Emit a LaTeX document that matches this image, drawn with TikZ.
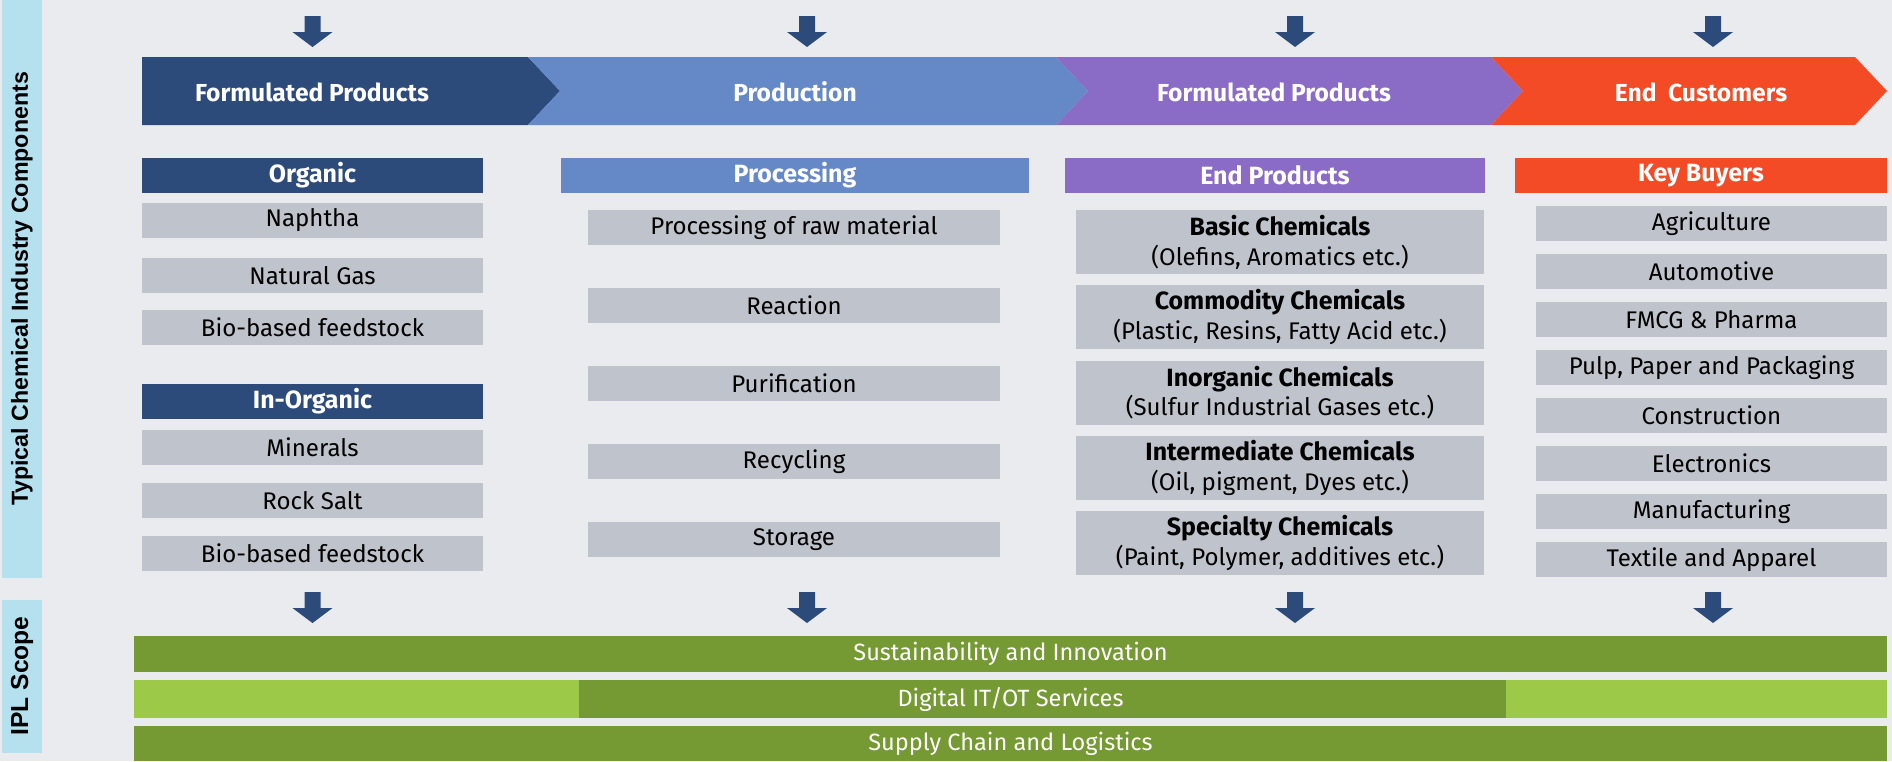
\documentclass[tikz,border=0pt]{standalone}
\usepackage{fontspec}
\setmainfont{Fira Sans}
\newfontfamily\stripfont{Liberation Sans}

\definecolor{bgcol}{HTML}{E9EBEF}
\definecolor{itemgray}{HTML}{BFC3CB}
\definecolor{stripblue}{HTML}{B5E1EF}
\definecolor{navy}{HTML}{2C4A7A}
\definecolor{skyblue}{HTML}{6589C7}
\definecolor{chempurple}{HTML}{8A6BC5}
\definecolor{flame}{HTML}{F44B27}
\definecolor{darkgreen}{HTML}{769A33}
\definecolor{lightgreen}{HTML}{9DC949}

\tikzset{
  header/.style={fill=#1, text=white, font=\bfseries\fontsize{14.2}{16}\selectfont,
    minimum height=7mm, inner sep=0pt},
  item/.style={fill=itemgray, font=\fontsize{13.7}{16}\selectfont,
    minimum height=7mm, inner sep=0pt},
  chem/.style={fill=itemgray, align=center, font=\fontsize{13.7}{17}\selectfont,
    minimum width=81.6mm, minimum height=12.8mm, inner sep=0pt},
  bannertext/.style={text=white, font=\bfseries\fontsize{14}{16}\selectfont},
  bartext/.style={text=white, font=\fontsize{13.4}{15}\selectfont},
  striptext/.style={rotate=90, font=\stripfont\bfseries\fontsize{#1}{14}\selectfont},
  downarrow/.pic={\fill[navy] (-8,0) -- (8,0) -- (8,16) -- (20,16) -- (0,31) -- (-20,16) -- (-8,16) -- cycle;}
}

\begin{document}
\begin{tikzpicture}[x=0.2mm, y=-0.2mm]
  \fill[bgcol] (0,0) rectangle (1892,761);
  \useasboundingbox (0,0) rectangle (1892,761);

  % side strips
  \fill[stripblue] (2,0) rectangle (42,578);
  \fill[stripblue] (2,600) rectangle (42,753);
  \node[striptext=13.2] (typical) at (22,289) {Typical Chemical Industry Components};
  \node[striptext=14] (ipl) at (22,676) {IPL Scope};

  % arrows in and out
  \foreach \xx in {312.5,807,1295,1713} {
    \pic at (\xx,16) {downarrow};
    \pic at (\xx,592) {downarrow};
  }

  % value chain banner
  \fill[navy] (142,57) -- (528,57) -- (560,91) -- (528,125) -- (142,125) -- cycle;
  \fill[skyblue] (528,57) -- (1056,57) -- (1088,91) -- (1056,125) -- (528,125) -- (560,91) -- cycle;
  \fill[chempurple] (1056,57) -- (1491,57) -- (1523,91) -- (1491,125) -- (1056,125) -- (1088,91) -- cycle;
  \fill[flame] (1491,57) -- (1855,57) -- (1887,91) -- (1855,125) -- (1491,125) -- (1523,91) -- cycle;
  \node[bannertext] (stage1) at (312,92) {Formulated Products};
  \node[bannertext] (stage2) at (795,92) {Production};
  \node[bannertext] (stage3) at (1274,92) {Formulated Products};
  \node[bannertext] (stage4) at (1701,92) {End\ \ Customers};

  % raw materials
  \node[header=navy, minimum width=68.2mm] (organic) at (312.5,175.5) {Organic};
  \foreach \yy/\txt [count=\i] in {220.5/Naphtha, 275.5/Natural Gas, 327.5/Bio-based feedstock}
    \node[item, minimum width=68.2mm] (org\i) at (312.5,\yy) {\txt};
  \node[header=navy, minimum width=68.2mm] (inorganic) at (312.5,401.5) {In-Organic};
  \foreach \yy/\txt [count=\i] in {447.5/Minerals, 500.5/Rock Salt, 553.5/Bio-based feedstock}
    \node[item, minimum width=68.2mm] (inorg\i) at (312.5,\yy) {\txt};

  % production steps
  \node[header=skyblue, minimum width=93.6mm] (processing) at (795,175.5) {Processing};
  \foreach \txt [count=\i from 0] in {Processing of raw material, Reaction, Purification, Recycling, Storage}
    \node[item, minimum width=82.4mm] (proc\i) at (794,227.5+78*\i) {\txt};

  % end products
  \node[header=chempurple, minimum width=84mm] (endprod) at (1275,175.5) {End Products};
  \foreach \ttl/\sub [count=\i from 0] in {{Basic Chemicals}/{(Olefins, Aromatics etc.)},
      {Commodity Chemicals}/{(Plastic, Resins, Fatty Acid etc.)},
      {Inorganic Chemicals}/{(Sulfur Industrial Gases etc.)},
      {Intermediate Chemicals}/{(Oil, pigment, Dyes etc.)},
      {Specialty Chemicals}/{(Paint, Polymer, additives etc.)}}
    \node[chem] (chem\i) at (1280,242+75.3*\i) {{\bfseries\fontsize{14.2}{17}\selectfont\ttl}\\\sub};

  % buyers
  \node[header=flame, minimum width=74.4mm] (buyers) at (1701,175.5) {Key Buyers};
  \foreach \txt [count=\i from 0] in {Agriculture, Automotive, FMCG \& Pharma, {Pulp, Paper and Packaging},
      Construction, Electronics, Manufacturing, Textile and Apparel}
    \node[item, minimum width=70.2mm] (buyer\i) at (1711.5,223.5+48*\i) {\txt};

  % IPL scope bars
  \fill[darkgreen] (134,636) rectangle (1887,672);
  \node[bartext] (sustain) at (1010.5,654) {Sustainability and Innovation};
  \fill[lightgreen] (134,680) rectangle (579,718);
  \fill[darkgreen] (579,680) rectangle (1506,718);
  \fill[lightgreen] (1506,680) rectangle (1887,718);
  \node[bartext] (digital) at (1010.5,699) {Digital IT/OT Services};
  \fill[darkgreen] (134,726) rectangle (1887,761);
  \node[bartext] (supply) at (1010.5,743.5) {Supply Chain and Logistics};
\end{tikzpicture}
\end{document}
